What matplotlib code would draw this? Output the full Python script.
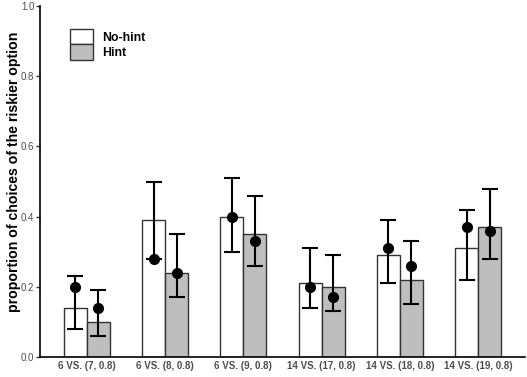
import matplotlib
matplotlib.use("Agg")
import matplotlib.pyplot as plt
import numpy as np
from matplotlib.patches import Patch

plt.rcParams['font.family'] = ['Liberation Sans', 'DejaVu Sans']

categories = ["6 VS. (7, 0.8)", "6 VS. (8, 0.8)", "6 VS. (9, 0.8)",
              "14 VS. (17, 0.8)", "14 VS. (18, 0.8)", "14 VS. (19, 0.8)"]
groups = ["No-hint", "Hint"]
bar_nohint = [0.14, 0.39, 0.40, 0.21, 0.29, 0.31]
bar_hint = [0.10, 0.24, 0.35, 0.20, 0.22, 0.37]
pt_nohint = [0.20, 0.28, 0.40, 0.20, 0.31, 0.37]
pt_hint = [0.14, 0.24, 0.33, 0.17, 0.26, 0.36]
lo_nohint = [0.08, 0.28, 0.30, 0.14, 0.21, 0.22]
hi_nohint = [0.23, 0.50, 0.51, 0.31, 0.39, 0.42]
lo_hint = [0.06, 0.17, 0.26, 0.13, 0.15, 0.28]
hi_hint = [0.19, 0.35, 0.46, 0.29, 0.33, 0.48]

fig = plt.figure(figsize=(5.27, 3.77), dpi=100)
ax = fig.add_axes([40/527, 1-357/377, 485/527, 351/377])

x = np.arange(1, len(categories)+1)
w = 0.295
colors = ["white", "#BEBEBE"]
data = [(bar_nohint, pt_nohint, lo_nohint, hi_nohint),
        (bar_hint, pt_hint, lo_hint, hi_hint)]
for i, (b, p, lo, hi) in enumerate(data):
    xs = x + (i - 0.5) * w
    ax.bar(xs, b, width=w, color=colors[i], edgecolor="#333333", linewidth=1.0,
           label=groups[i], zorder=2)
    p = np.array(p); lo = np.array(lo); hi = np.array(hi)
    ax.errorbar(xs, p, yerr=[p - lo, hi - p], fmt='o', color='black',
                markersize=7, elinewidth=1.5, capsize=6, capthick=1.5, zorder=3)

ax.set_xlim(0.4, 6.6)
ax.set_ylim(0, 1.0)
ax.set_yticks([0, 0.2, 0.4, 0.6, 0.8, 1.0])
ax.set_yticklabels(["0.0", "0.2", "0.4", "0.6", "0.8", "1.0"])
ax.set_xticks(x)
ax.set_xticklabels(categories)
ax.tick_params(axis='both', labelsize=7, labelcolor="#4D4D4D", color="#333333",
               length=3, width=1)
ax.tick_params(axis='y', pad=1)
for lab in ax.get_xticklabels():
    lab.set_fontweight('bold')
ax.tick_params(axis='x', length=0, pad=3)
for s in ['top', 'right']:
    ax.spines[s].set_visible(False)
for s in ['left', 'bottom']:
    ax.spines[s].set_linewidth(1.2)
    ax.spines[s].set_color('black')
ax.set_ylabel("proportion of choices of the riskier option", fontsize=10.2,
              fontweight='bold')
ax.yaxis.set_label_coords(-19/485, 185/351)

handles = [Patch(facecolor=c, edgecolor="#333333", linewidth=1.0) for c in colors]
leg = ax.legend(handles, groups, loc='upper left', bbox_to_anchor=(30/485, 0.934),
                frameon=False, handlelength=1.9, handleheight=1.55, labelspacing=0.0,
                handletextpad=0.7, borderaxespad=0, borderpad=0,
                prop={'size': 8.8, 'weight': 'bold'})

fig.savefig("out.png", dpi=100)
